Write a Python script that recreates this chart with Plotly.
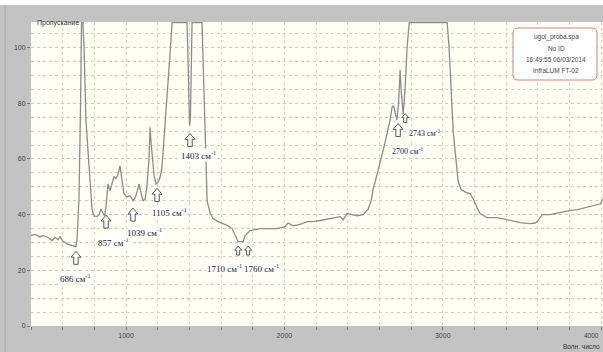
import plotly.graph_objects as go

# Spectrum: wavenumber (cm-1) and transmittance (%); 109 = clipped at top of scale
wavenumber = [400, 425, 457, 476, 507, 533, 552, 571, 583, 602, 634, 665, 684, 691, 697, 703, 713, 719,
              728, 735, 747, 754, 760, 766, 773, 785, 798, 817, 830, 842, 855, 864, 874, 886, 899, 912,
              924, 937, 950, 962, 975, 987, 1006, 1025, 1044, 1057, 1069, 1082, 1094, 1107, 1120, 1132,
              1145, 1152, 1158, 1164, 1177, 1190, 1202, 1215, 1227, 1246, 1265, 1278, 1291, 1385, 1392,
              1401, 1407, 1417, 1480, 1493, 1502, 1512, 1531, 1550, 1581, 1613, 1645, 1670, 1689, 1708,
              1739, 1752, 1783, 1847, 1910, 1954, 2004, 2023, 2055, 2099, 2143, 2181, 2226, 2270, 2308,
              2352, 2371, 2396, 2428, 2459, 2497, 2529, 2548, 2560, 2579, 2592, 2605, 2636, 2668, 2680,
              2690, 2699, 2711, 2721, 2731, 2737, 2750, 2762, 2775, 2788, 3028, 3040, 3047, 3066, 3078,
              3097, 3116, 3141, 3173, 3192, 3217, 3236, 3280, 3343, 3382, 3426, 3489, 3552, 3584, 3597,
              3616, 3628, 3679, 3723, 3764, 3808, 3852, 3890, 3935, 3966, 3997, 4010]
transmittance = [32.5, 32.9, 32.0, 32.5, 31.8, 30.7, 31.8, 31.0, 32.0, 30.4, 29.3, 28.9, 28.5, 31.4, 38.6,
                 45.7, 80, 109, 109, 100, 74, 68, 61, 58, 52, 42, 39.5, 39.3, 40, 42, 40.5, 39.6, 43, 51,
                 48.6, 51, 53.6, 53, 54.6, 57.5, 52.9, 47.5, 46.4, 46.8, 45, 46, 48, 51, 48, 45, 45.5, 50,
                 60, 71.4, 66, 62.5, 54, 51, 51.5, 53.5, 57, 72, 90, 98, 109, 109, 95, 72, 75, 109, 109,
                 80, 58, 45, 40.5, 38.6, 37.5, 36.8, 36, 35, 32.5, 30.3, 30.3, 32.5, 34.3, 35, 35, 35,
                 35.7, 37, 36, 36.5, 37.5, 37.5, 37.9, 38.3, 38.9, 39.3, 38.2, 40.4, 40, 39.6, 40, 42,
                 45, 49, 53, 56, 58, 66, 74, 78.6, 79, 77, 74, 80, 92, 85, 76, 85, 100, 109, 109, 100,
                 93, 70, 63, 52, 49, 48.2, 47.5, 45.7, 42.5, 40.4, 38.9, 38.9, 38.5, 37.9, 37.1, 36.8,
                 37, 37.5, 39, 40, 40, 40.6, 41, 41.5, 41.8, 42.3, 42.9, 43.3, 43.9, 45.7]

# Peak markers: label, arrow position (wavenumber, %), label position (wavenumber, %)
peak_labels = ["686", "857", "1039", "1105", "1403", "1710", "1760", "2700", "2743"]
arrow_x = [684, 874, 1044, 1196, 1404, 1708, 1771, 2718, 2763]
arrow_y = [24.5, 37.5, 40.0, 47.1, 66.8, 27.1, 27.1, 70.4, 74.7]
label_x = [684, 918, 1114, 1272, 1455, 1625, 1853, 2775, 2883]
label_y = [17.4, 30.3, 33.9, 41.0, 61.5, 21.0, 21.0, 62.9, 69.4]

x_tick_vals = [1000, 2000, 3000]
x_last_tick = 4000
y_tick_vals = [0, 20, 40, 60, 80, 100]

info_lines = ["ugol_proba.spa", "No ID", "16:49:55 06/03/2014", "InfraLUM FT-02"]

W, H = 603, 352
ML, MR, MT, MB = 31, 0, 22, 26
PW, PH = W - ML - MR, H - MT - MB
XR = [400, 4012]
YR = [0, 109.2]
DX = (XR[1] - XR[0]) / PW   # data units per pixel
DY = (YR[1] - YR[0]) / PH

def px(x):
    return (x - ML) / PW

def py(y):
    return (H - MB - y) / PH

fig = go.Figure()
fig.add_trace(go.Scatter(x=wavenumber, y=transmittance, mode="lines",
                         line=dict(color="#8c8c8c", width=1.3), hoverinfo="skip"))

ann = []
shapes = [
    dict(type="rect", xref="paper", yref="paper", x0=px(0), x1=px(W), y0=py(0), y1=py(5),
         fillcolor="white", line=dict(width=0), layer="below"),
    dict(type="line", xref="paper", yref="paper", x0=px(5), x1=px(5), y0=py(5), y1=py(H),
         line=dict(color="#a8a8a8", width=1)),
]

def arrow_path(cx, cy, h):
    # hollow up-arrow centred at (cx, cy) in data units, h pixels tall
    hw = h * 0.38
    sw = h * 0.17
    hh = h * 0.45
    top = cy + (h / 2) * DY
    bot = cy - (h / 2) * DY
    neck = top - hh * DY
    pts = [(cx, top), (cx + hw * DX, neck), (cx + sw * DX, neck), (cx + sw * DX, bot),
           (cx - sw * DX, bot), (cx - sw * DX, neck), (cx - hw * DX, neck)]
    return "M " + " L ".join(f"{x:.2f},{y:.3f}" for x, y in pts) + " Z"

for lab, ax, ay, lx, ly in zip(peak_labels, arrow_x, arrow_y, label_x, label_y):
    small = lab in ("1710", "1760", "2743")
    shapes.append(dict(type="path", xref="x", yref="y", path=arrow_path(ax, ay, 9 if small else 13),
                       fillcolor="white", line=dict(color="#555555", width=1)))
    ann.append(dict(x=lx, y=ly, xref="x", yref="y", text=lab + " см<sup>-1</sup>", showarrow=False,
                    bgcolor="white", borderpad=0, xanchor="center",
                    font=dict(family="Liberation Serif", size=9 if lab not in ("2700", "2743") else 8,
                              color="#222222")))

# info box text
box_cx = px(556)
for t, yy in zip(info_lines, [37, 48, 59, 70]):
    ann.append(dict(x=box_cx, y=py(yy), xref="paper", yref="paper", text=t, showarrow=False,
                    xanchor="center", yanchor="middle",
                    font=dict(family="Liberation Sans", size=6.5, color="#444444")))

ann.append(dict(x=px(35), y=py(17), xref="paper", yref="paper", text="Пропускание", showarrow=False,
                xanchor="left", font=dict(family="Liberation Sans", size=7, color="#333333")))
ann.append(dict(x=px(602), y=py(346.5), xref="paper", yref="paper", text="Волн. число", showarrow=False,
                xanchor="right", yanchor="middle",
                font=dict(family="Liberation Sans", size=6.5, color="#333333")))
ann.append(dict(x=px(601), y=py(335), xref="paper", yref="paper", text=str(x_last_tick), showarrow=False,
                xanchor="right", yanchor="middle",
                font=dict(family="Liberation Sans", size=6.5, color="#444444")))

# rounded info box path
x0, x1, y0, y1 = 513, 597, 28, 80
r = 5
def P(x, y):
    return f"{px(x):.5f},{py(y):.5f}"
path = (f"M {P(x0 + r, y0)} L {P(x1 - r, y0)} Q {P(x1, y0)} {P(x1, y0 + r)} "
        f"L {P(x1, y1 - r)} Q {P(x1, y1)} {P(x1 - r, y1)} L {P(x0 + r, y1)} "
        f"Q {P(x0, y1)} {P(x0, y1 - r)} L {P(x0, y0 + r)} Q {P(x0, y0)} {P(x0 + r, y0)} Z")
shapes.append(dict(type="path", xref="paper", yref="paper", path=path, fillcolor="white",
                   line=dict(color="#c98585", width=1)))

fig.update_layout(
    width=W, height=H,
    margin=dict(l=ML, r=MR, t=MT, b=MB, pad=0),
    paper_bgcolor="#c3c3c3",
    plot_bgcolor="#fffff3",
    showlegend=False,
    annotations=ann,
    shapes=shapes,
    xaxis=dict(range=XR, tickvals=x_tick_vals, ticks="outside", ticklen=3,
               tickcolor="#777777", showgrid=True, gridcolor="#d2d2c8", griddash="dot", gridwidth=1,
               tickfont=dict(family="Liberation Sans", size=7, color="#444444"),
               minor=dict(dtick=200, tick0=0, ticks="outside", ticklen=3, tickcolor="#777777",
                          showgrid=True, gridcolor="#d8d8d0", griddash="dot"),
               zeroline=False, showline=False, fixedrange=True),
    yaxis=dict(range=YR, tickvals=y_tick_vals, ticks="outside", ticklen=3,
               tickcolor="#777777", showgrid=True, gridcolor="#c8c8c0", griddash="dot", gridwidth=1,
               tickfont=dict(family="Liberation Sans", size=7, color="#444444"),
               minor=dict(dtick=5, tick0=0, showgrid=True, gridcolor="#d0d0c8", griddash="dot"),
               zeroline=False, showline=False, fixedrange=True),
)

fig.write_html("out.html", config={"displayModeBar": False},
               post_script="document.body.style.margin='0';document.body.style.overflow='hidden';")
